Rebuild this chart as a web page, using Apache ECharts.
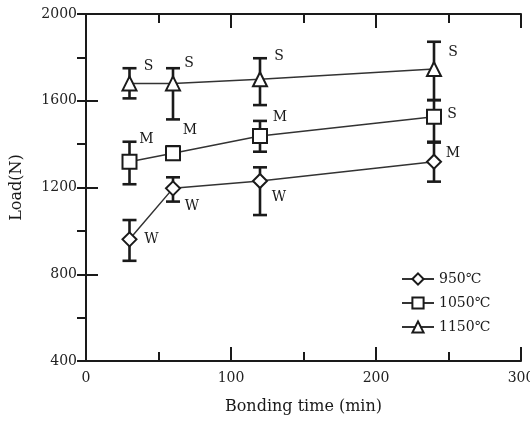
<!DOCTYPE html>
<html>
<head>
<meta charset="utf-8">
<script src="https://cdn.jsdelivr.net/npm/echarts@6/dist/echarts.min.js"></script>
<style>
html,body{margin:0;padding:0;background:#fff;}
#chart{width:530px;height:426px;}
</style>
</head>
<body>
<div id="chart"></div>
<script>
var times = [30, 60, 120, 240];
var load950 = [961, 1196, 1230, 1319];
var low950 = [862, 1135, 1073, 1227];
var high950 = [1050, 1247, 1293, 1411];
var tags950 = ['W', 'W', 'W', 'M'];

var load1050 = [1319, 1358, 1437, 1526];
var low1050 = [1215, 1328, 1365, 1407];
var high1050 = [1411, 1390, 1507, 1603];
var tags1050 = ['M', 'M', 'M', 'S'];

var load1150 = [1680, 1680, 1699, 1746];
var low1150 = [1611, 1514, 1580, 1603];
var high1150 = [1750, 1750, 1796, 1872];
var tags1150 = ['S', 'S', 'S', 'S'];

var names = ['950℃', '1050℃', '1150℃'];

var font = 'DejaVu Serif';
var ink = '#1a1a1a';

// label offsets (px) for S/M/W tags next to each point
var tagOffsets = {
	'950℃': [[22, 0], [19, 18], [19, 16], [19, -8]],
	'1050℃': [[17, -22], [17, -23], [20, -19], [18, -2]],
	'1150℃': [[19, -17], [16, -20], [19, -23], [19, -17]]
};

function pointData(name, vals, tags) {
	var arr = [];
	for (var i = 0; i < times.length; i++) {
		arr.push({
			value: [times[i], vals[i]],
			label: {
				show: true,
				formatter: tags[i],
				position: 'inside',
				offset: tagOffsets[name][i],
				color: ink,
				fontFamily: font,
				fontSize: 14
			}
		});
	}
	return arr;
}

function errData(lo, hi) {
	var arr = [];
	for (var i = 0; i < times.length; i++) {
		arr.push([times[i], lo[i], hi[i]]);
	}
	return arr;
}

function renderErr(params, api) {
	var top = api.coord([api.value(0), api.value(2)]);
	var bot = api.coord([api.value(0), api.value(1)]);
	var hw = 7;
	var st = { stroke: ink, lineWidth: 2.6 };
	return {
		type: 'group',
		children: [
			{ type: 'line', shape: { x1: top[0], y1: top[1], x2: bot[0], y2: bot[1] }, style: st },
			{ type: 'line', shape: { x1: top[0] - hw, y1: top[1], x2: top[0] + hw, y2: top[1] }, style: st },
			{ type: 'line', shape: { x1: bot[0] - hw, y1: bot[1], x2: bot[0] + hw, y2: bot[1] }, style: st }
		]
	};
}

function lineSeries(name, vals, tags, symbol) {
	return {
		name: name,
		type: 'line',
		symbol: symbol,
		symbolSize: 14,
		z: 5,
		lineStyle: { color: '#333', width: 1.5 },
		itemStyle: { color: '#fff', borderColor: ink, borderWidth: 2 },
		data: pointData(name, vals, tags)
	};
}

function errSeries(lo, hi) {
	return {
		type: 'custom',
		z: 3,
		renderItem: renderErr,
		encode: { x: 0, y: [1, 2] },
		data: errData(lo, hi)
	};
}

var axisLine = { show: true, lineStyle: { color: ink, width: 2 } };
var tickStyle = { color: ink, width: 2 };
var labelStyle = { color: '#222', fontFamily: font, fontSize: 14 };

var myChart = echarts.init(document.getElementById('chart'));
var option = {
	animation: false,
	backgroundColor: '#fff',
	grid: { left: 86, right: 9, top: 14, bottom: 65, outerBoundsMode: 'none' },
	legend: {
		data: names,
		orient: 'vertical',
		left: 401,
		top: 272,
		padding: 0,
		itemWidth: 32,
		itemHeight: 14,
		itemGap: 10,
		textStyle: { color: ink, fontFamily: font, fontSize: 14 }
	},
	xAxis: [{
			type: 'value',
			min: 0,
			max: 300,
			interval: 100,
			name: 'Bonding time (min)',
			nameLocation: 'middle',
			nameGap: 38,
			nameTextStyle: { color: ink, fontFamily: font, fontSize: 16 },
			axisLine: axisLine,
			axisTick: { inside: true, length: 14, lineStyle: tickStyle },
			minorTick: { show: true, splitNumber: 2, length: 9, lineStyle: tickStyle },
			axisLabel: Object.assign({ margin: 10 }, labelStyle),
			splitLine: { show: false }
		},
		{
			type: 'value',
			position: 'top',
			min: 0,
			max: 300,
			interval: 100,
			axisLine: axisLine,
			axisTick: { inside: true, length: 14, lineStyle: tickStyle },
			minorTick: { show: true, splitNumber: 2, length: 9, lineStyle: tickStyle },
			axisLabel: { show: false },
			splitLine: { show: false }
		}
	],
	yAxis: [{
			type: 'value',
			min: 400,
			max: 2000,
			interval: 400,
			name: 'Load(N)',
			nameLocation: 'middle',
			nameGap: 61,
			nameTextStyle: { color: ink, fontFamily: font, fontSize: 16 },
			axisLine: axisLine,
			axisTick: { inside: true, length: 12, lineStyle: tickStyle },
			// minor ticks were drawn outward here, so flip them
			minorTick: { show: true, splitNumber: 2, length: -9, lineStyle: tickStyle },
			axisLabel: Object.assign({ margin: 9, formatter: function(v) { return String(v); } }, labelStyle),
			splitLine: { show: false }
		},
		{
			type: 'value',
			position: 'right',
			min: 400,
			max: 2000,
			interval: 200,
			axisLine: axisLine,
			axisTick: { inside: true, length: 9, lineStyle: tickStyle },
			axisLabel: { show: false },
			splitLine: { show: false }
		}
	],
	series: [
		errSeries(low950, high950),
		errSeries(low1050, high1050),
		errSeries(low1150, high1150),
		lineSeries('950℃', load950, tags950, 'diamond'),
		lineSeries('1050℃', load1050, tags1050, 'rect'),
		lineSeries('1150℃', load1150, tags1150, 'triangle')
	]
};
myChart.setOption(option);
</script>
</body>
</html>
